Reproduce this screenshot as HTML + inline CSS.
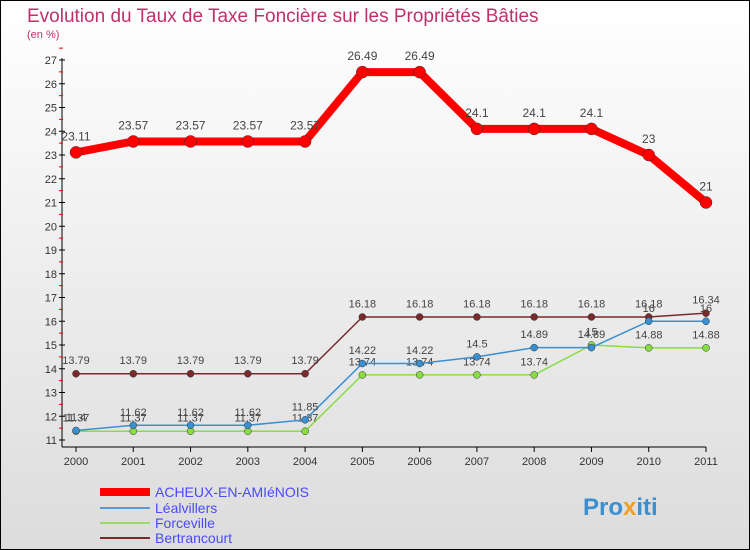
<!DOCTYPE html>
<html><head><meta charset="utf-8"><style>
body{margin:0;width:750px;height:550px;overflow:hidden;font-family:"Liberation Sans",sans-serif}
svg{display:block}
</style></head><body>
<svg width="750" height="550">
<defs><linearGradient id="bg" x1="0" y1="0" x2="0" y2="1"><stop offset="0" stop-color="#ffffff"/><stop offset="1" stop-color="#dcdcdc"/></linearGradient></defs>
<rect x="0.5" y="0.5" width="749" height="549" fill="url(#bg)" stroke="#000"/>
<text x="27" y="22" font-size="19" fill="#c0306a">Evolution du Taux de Taxe Foncière sur les Propriétés Bâties</text>
<text x="27" y="38" font-size="11" fill="#c0306a">(en %)</text>
<g id="axes"></g><g id="series"></g>
<g>
<line x1="100" y1="492" x2="150" y2="492" stroke="#ff0000" stroke-width="8"/>
<text x="155" y="497" font-size="14" fill="#4a4aff">ACHEUX-EN-AMIéNOIS</text>
<line x1="100" y1="508" x2="150" y2="508" stroke="#5b9bd5" stroke-width="2"/>
<text x="155" y="513" font-size="14" fill="#4a4aff">Léalvillers</text>
<line x1="100" y1="523" x2="150" y2="523" stroke="#99dd66" stroke-width="2"/>
<text x="155" y="528" font-size="14" fill="#4a4aff">Forceville</text>
<line x1="100" y1="538" x2="150" y2="538" stroke="#7a2a2a" stroke-width="2"/>
<text x="155" y="543" font-size="14" fill="#4a4aff">Bertrancourt</text>
</g>
<text x="583" y="515" font-size="24" font-weight="bold" fill="#3a8fd0">Pro<tspan fill="#f0a020">x</tspan>iti</text>
</svg>
<script>
const years=[2000,2001,2002,2003,2004,2005,2006,2007,2008,2009,2010,2011];
const acheux=[23.11,23.57,23.57,23.57,23.57,26.49,26.49,24.1,24.1,24.1,23,21];
const lealvillers=[11.4,11.62,11.62,11.62,11.85,14.22,14.22,14.5,14.89,14.89,16,16];
const forceville=[11.37,11.37,11.37,11.37,11.37,13.74,13.74,13.74,13.74,15,14.88,14.88];
const bertrancourt=[13.79,13.79,13.79,13.79,13.79,16.18,16.18,16.18,16.18,16.18,16.18,16.34];
const yTicks=[11,12,13,14,15,16,17,18,19,20,21,22,23,24,25,26,27];
const NS="http://www.w3.org/2000/svg";
const xs=i=>76+i*(630/11);
const ys=v=>440-(v-11)*23.75;
function mk(t,a,p){const e=document.createElementNS(NS,t);for(const k in a)e.setAttribute(k,a[k]);p.appendChild(e);return e;}
const ax=document.getElementById('axes');
const yl=mk('line',{x1:62,y1:58,x2:62,y2:447,stroke:'#000'},ax);


const xl=mk('line',{x1:62,y1:447,x2:706,y2:447,stroke:'#000'},ax);


yTicks.forEach(v=>{
  mk('line',{x1:59,y1:ys(v),x2:65,y2:ys(v),stroke:'#000'},ax);
  mk('line',{x1:59,y1:ys(v+0.5),x2:63,y2:ys(v+0.5),stroke:'#e00'},ax);
  const t=mk('text',{x:57,y:ys(v)+4,'font-size':11,fill:'#333','text-anchor':'end'},ax);t.textContent=v;
  
  
});
years.forEach((y,i)=>{
  mk('line',{x1:xs(i),y1:447,x2:xs(i),y2:452,stroke:'#000'},ax);
  const t=mk('text',{x:xs(i),y:465,'font-size':11,fill:'#333','text-anchor':'middle'},ax);t.textContent=y;
  
  
});
const sg=document.getElementById('series');
function series(vals,name,col,w,r,fs){
  const g=mk('g',{},sg);
  
  
  const pl=mk('polyline',{points:vals.map((v,i)=>xs(i)+','+ys(v)).join(' '),fill:'none',stroke:col,'stroke-width':w,'stroke-linejoin':'round'},g);
  
  
  vals.forEach((v,i)=>{
    const c=mk('circle',{cx:xs(i),cy:ys(v),r:r,fill:col,stroke:'#333','stroke-width':0.5},g);
    
    
    const t=mk('text',{x:xs(i),y:ys(v)-(r+6),'font-size':fs,fill:'#444','text-anchor':'middle'},g);t.textContent=v;
    
    
  });
}
series(bertrancourt,'bertrancourt','#7a2a2a',1.5,3.5,11);
series(forceville,'forceville','#88dd44',1.5,3.5,11);
series(lealvillers,'lealvillers','#3a8fd0',1.5,3.5,11);
series(acheux,'acheux','#ff0000',8,6,12);
</script>
</body></html>
